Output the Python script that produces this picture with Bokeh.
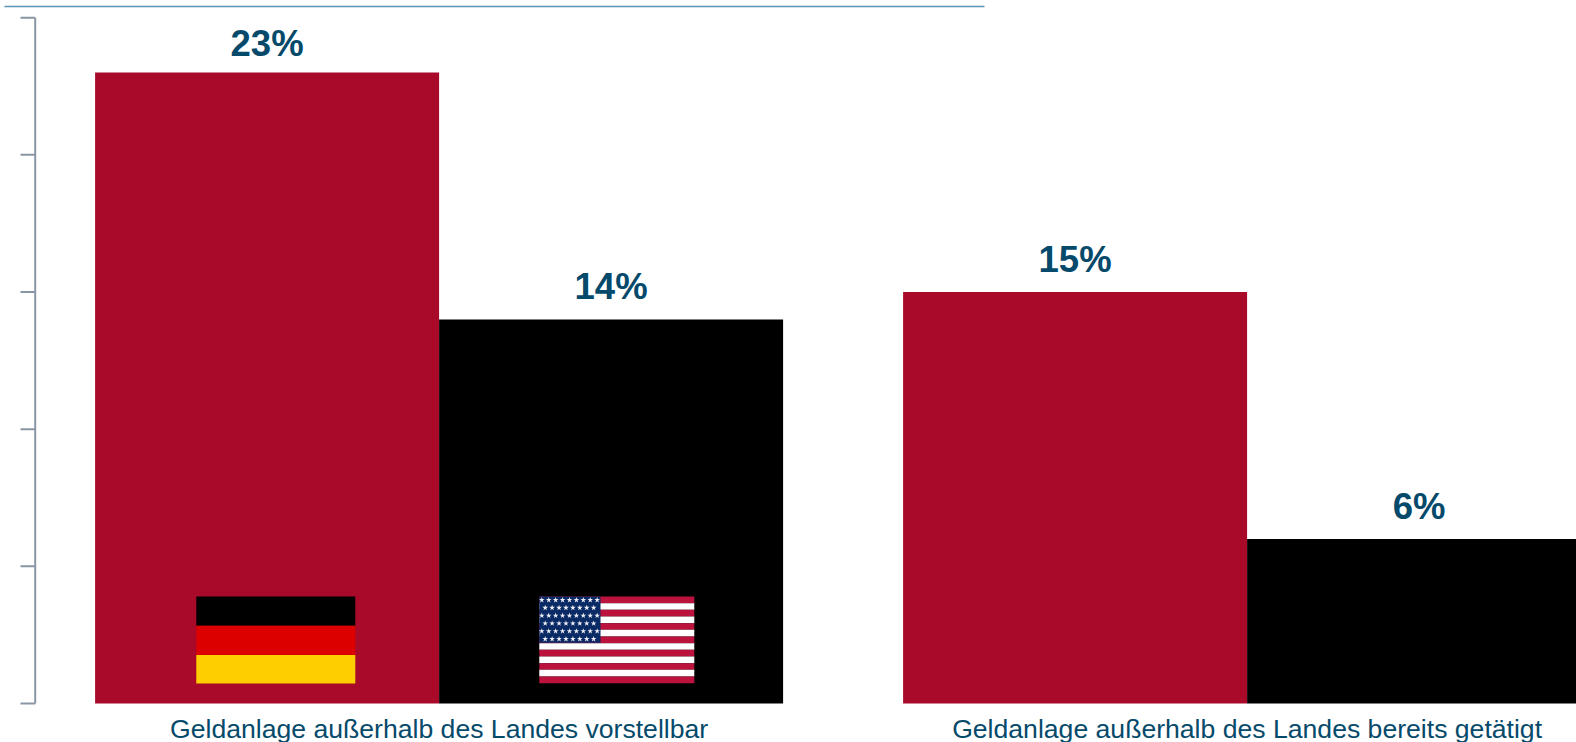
from bokeh.core.properties import value
from bokeh.embed import file_html
from bokeh.models import Range1d
from bokeh.plotting import figure
from bokeh.resources import INLINE

# Survey shares in percent
categories = ["Geldanlage außerhalb des Landes vorstellbar",
              "Geldanlage außerhalb des Landes bereits getätigt"]
germany = [23, 15]
usa = [14, 6]
axis_ticks = [0, 5, 10, 15, 20, 25]

RED = "#A90A2A"
BLACK = "#000000"
TEXT = "#064A6B"
GREY = "#8A96A3"
FONT = value("Liberation Sans")

# Horizontal layout in canvas pixels; vertical scale is percent
WIDTH, HEIGHT = 1576, 742
BAR_W = 344
GROUP_LEFT = [94.6, 902.6]
ZERO_PX, TOP_PX = 703.0, 17.2
PX_PER_PCT = (ZERO_PX - TOP_PX) / 25


def py(pixel):
    """Percent value that lands on a given canvas row."""
    return (ZERO_PX - pixel) / PX_PER_PCT


p = figure(width=WIDTH, height=HEIGHT, output_backend="svg", toolbar_location=None,
           x_range=Range1d(0, WIDTH), y_range=Range1d(py(HEIGHT), py(0)),
           min_border=0, x_axis_type=None, y_axis_type=None, outline_line_color=None)
p.grid.visible = False
p.background_fill_color = "white"
p.border_fill_color = "white"

# Value axis: a spine with outward ticks and no labels
AXIS_X, TICK_X = 34.7, 20
p.segment(x0=[AXIS_X], x1=[AXIS_X], y0=[axis_ticks[0]], y1=[axis_ticks[-1]],
          line_color=GREY, line_width=2)
p.segment(x0=[TICK_X] * len(axis_ticks), x1=[AXIS_X] * len(axis_ticks),
          y0=axis_ticks, y1=axis_ticks, line_color=GREY, line_width=2)

# Bars
de_x = [x + BAR_W / 2 for x in GROUP_LEFT]
us_x = [x + BAR_W * 1.5 for x in GROUP_LEFT]
p.vbar(x=de_x, top=germany, bottom=0, width=BAR_W, fill_color=RED, line_color=None)
p.vbar(x=us_x, top=usa, bottom=0, width=BAR_W, fill_color=BLACK, line_color=None)

# Value labels above the bars
p.text(x=de_x + us_x, y=germany + usa,
       text=[f"{v}%" for v in germany + usa],
       text_font=FONT, text_font_size="36.5px", text_font_style="bold",
       text_color=TEXT, text_align="center", text_baseline="alphabetic",
       y_offset=[-29, -33, -33, -32])

# Group captions below the baseline
p.text(x=[x + BAR_W for x in GROUP_LEFT], y=[0, 0], text=categories,
       text_font=FONT, text_font_size="26.6px", text_color=TEXT,
       text_align="center", text_baseline="alphabetic", y_offset=25.5)

# German flag
de_cols = ["#000000", "#DD0000", "#FFCE00"]
de_edges = [596, 625.3, 654.5, 683]
p.quad(left=[195.8] * 3, right=[354.8] * 3,
       top=[py(v) for v in de_edges[:-1]], bottom=[py(v) for v in de_edges[1:]],
       fill_color=de_cols, line_color=None)

# US flag: 13 stripes, blue canton, rows of stars
US_L, US_R, US_T, US_B = 538.8, 693.8, 596, 682.7
stripe_h = (US_B - US_T) / 13
stripe_rows = list(range(13))
p.quad(left=[US_L] * 13, right=[US_R] * 13,
       top=[py(US_T + i * stripe_h) for i in stripe_rows],
       bottom=[py(US_T + (i + 1) * stripe_h) for i in stripe_rows],
       fill_color=["#BB133E" if i % 2 == 0 else "#FFFFFF" for i in stripe_rows],
       line_color=None)
CANTON_R, CANTON_B = 600, 642.3
p.quad(left=[US_L], right=[CANTON_R], top=[py(US_T)], bottom=[py(CANTON_B)],
       fill_color="#0A2A66", line_color=None)
star_x, star_y = [], []
for row in range(6):
    count = 9 if row % 2 == 0 else 8
    x0 = 541.3 if row % 2 == 0 else 544.7
    for col in range(count):
        star_x.append(x0 + 6.92 * col)
        star_y.append(py(599.5 + 7.8 * row))
p.scatter(x=star_x, y=star_y, marker="star", size=6, fill_color="#EEEEF4", line_color=None)

# Thin rule along the top of the page
p.segment(x0=[4], x1=[984], y0=[py(6)], y1=[py(6)], line_color="#5B93B3", line_width=1.5)

open("out.html", "w").write(file_html(p, INLINE))
